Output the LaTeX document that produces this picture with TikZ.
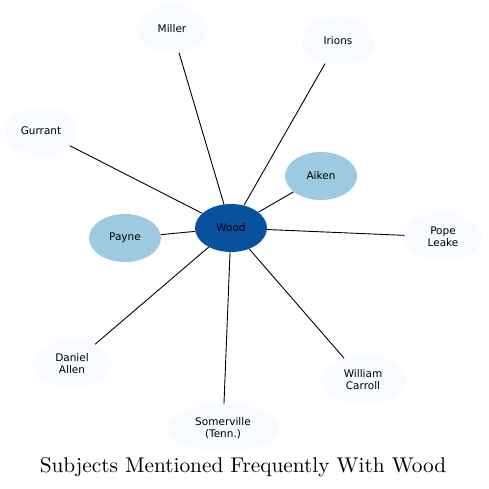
\documentclass[tikz,border=0pt]{standalone}
\usepackage{fontspec}
\usepackage{tikz}
\usetikzlibrary{shapes.geometric}
\newfontfamily\labelfont{DejaVu Sans}
\newfontfamily\titlefont{lmroman10-regular.otf}

\definecolor{hubblue}{RGB}{8,81,156}
\definecolor{midblue}{RGB}{158,202,225}
\definecolor{paleblue}{RGB}{247,251,255}

\begin{document}
\begin{tikzpicture}[x=1pt, y=-1pt,
    person/.style={ellipse, inner sep=0pt, minimum width=72pt, minimum height=48pt,
      align=center, font=\labelfont\fontsize{10.5}{12}\selectfont},
    link/.style={line width=0.9pt}]
    \useasboundingbox (0,0) rectangle (488,489);

    % centre and close ties
    \node[person, fill=hubblue] (wood) at (231,228) {Wood};
    \node[person, fill=midblue] (payne) at (125,238) {Payne};
    \node[person, fill=midblue] (aiken) at (321,176) {Aiken};

    % outer ring
    \node[person, fill=paleblue] (miller) at (172,29) {Miller};
    \node[person, fill=paleblue] (irions) at (338,41) {Irions};
    \node[person, fill=paleblue] (gurrant) at (41,131) {Gurrant};
    \node[person, fill=paleblue, minimum width=77pt] (leake) at (443,237) {Pope\\Leake};
    \node[person, fill=paleblue, minimum width=80pt] (allen) at (72,364) {Daniel\\Allen};
    \node[person, fill=paleblue, minimum width=86pt] (carroll) at (363,380) {William\\Carroll};
    \node[person, fill=paleblue, minimum width=112pt] (somerville) at (223,428) {Somerville\\(Tenn.)};

    \foreach \other in {payne,aiken,miller,irions,gurrant,leake,allen,carroll,somerville}
      \draw[link] (wood) -- (\other);

    \node[font=\titlefont\fontsize{21.3}{24}\selectfont] (title) at (243,467) {Subjects Mentioned Frequently With Wood};
\end{tikzpicture}
\end{document}
